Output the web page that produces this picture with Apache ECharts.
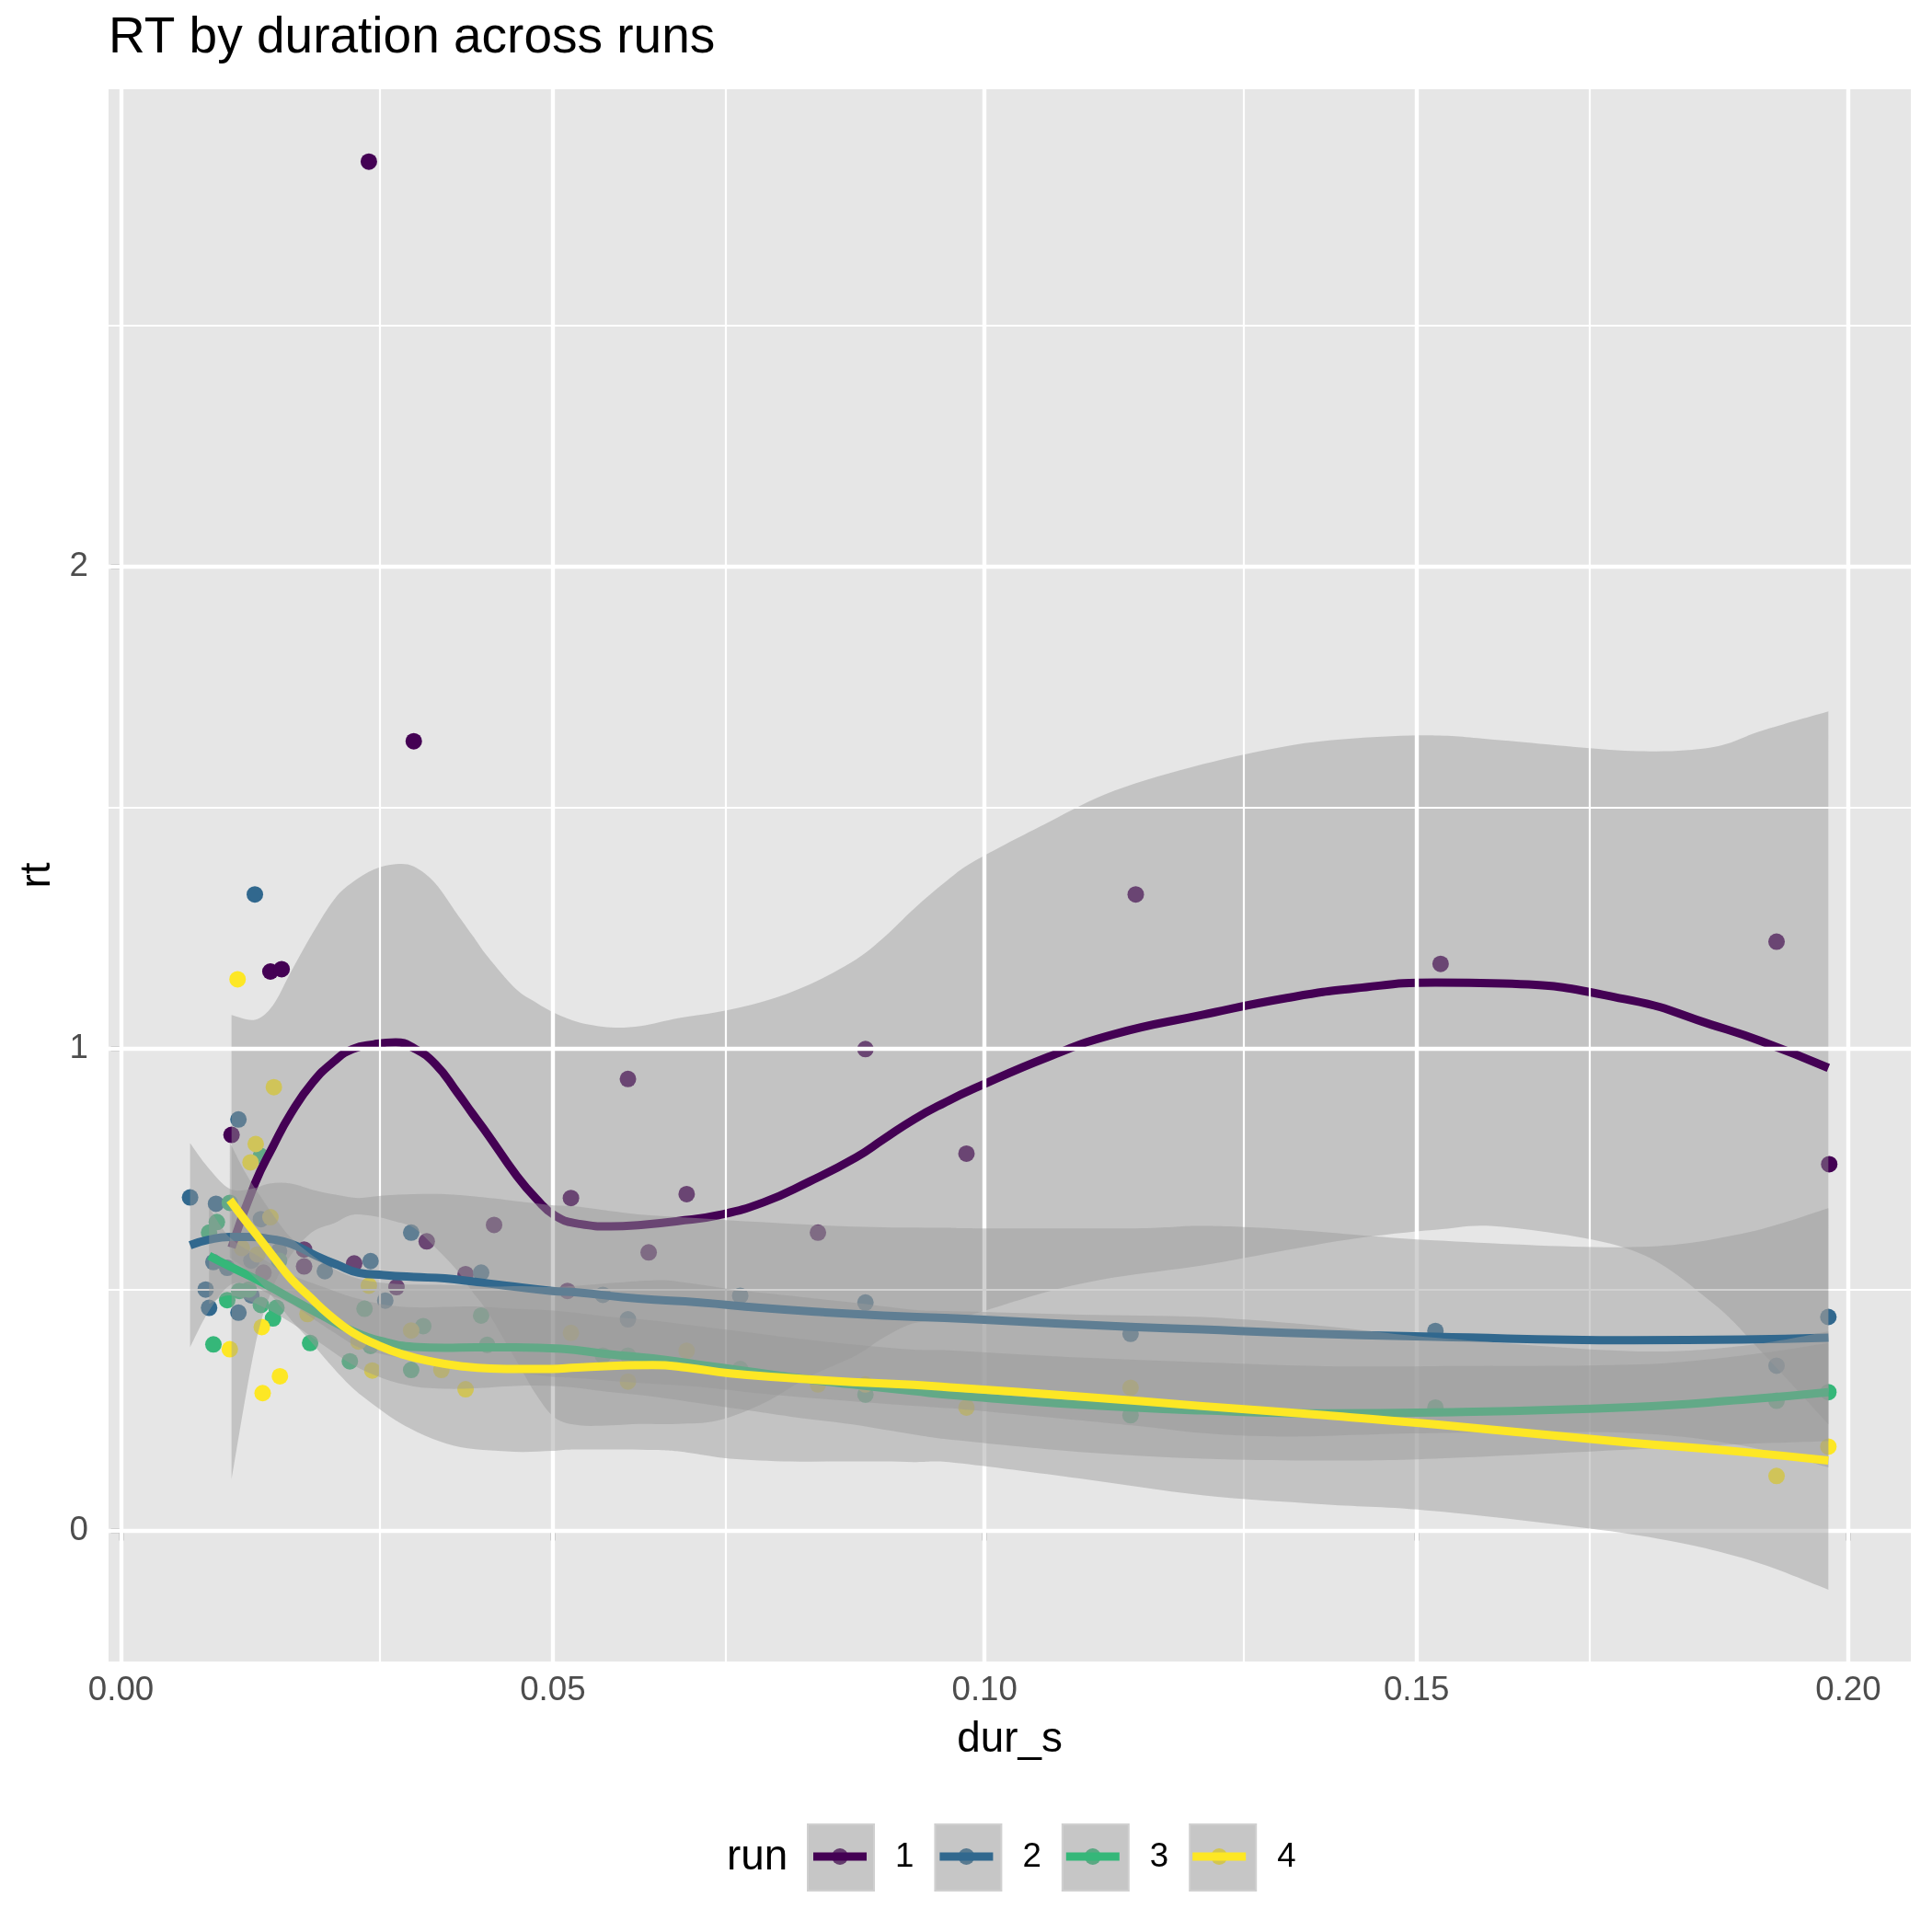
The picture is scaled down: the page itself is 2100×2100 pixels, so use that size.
<!DOCTYPE html>
<html>
<head>
<meta charset="utf-8">
<title>RT by duration across runs</title>
<script src="https://cdn.jsdelivr.net/npm/echarts@6.0.0/dist/echarts.min.js"></script>
<style>
  html, body { margin: 0; padding: 0; background: #ffffff; }
  #chart { width: 2100px; height: 2100px; }
</style>
</head>
<body>
<div id="chart"></div>
<script>
// runs and their viridis colours
const runNames = ['1', '2', '3', '4'];
const runColors = ['#440154', '#31688E', '#35B779', '#FDE725'];
// point colour as it shows through the grey key fill in the legend
const keyDotColors = ['#643C6E', '#587A90', '#5BA883', '#D2C552'];

// raw trials: dur_s / rt per run
const run1Dur = [0.0128, 0.0173, 0.0186, 0.0287, 0.0339, 0.0165, 0.0212, 0.0212, 0.0270, 0.0319, 0.0354, 0.0399, 0.0432, 0.0517, 0.0521, 0.0587, 0.0611, 0.0655, 0.0807, 0.0862, 0.0979, 0.1175, 0.1528, 0.1917, 0.1978];
const run1Rt  = [0.821, 1.160, 1.165, 2.841, 1.638, 0.535, 0.583, 0.548, 0.554, 0.505, 0.600, 0.532, 0.634, 0.497, 0.690, 0.937, 0.577, 0.698, 0.618, 0.999, 0.782, 1.320, 1.176, 1.222, 0.760];
const run2Dur = [0.0080, 0.0110, 0.0136, 0.0155, 0.0162, 0.0107, 0.0123, 0.0183, 0.0151, 0.0098, 0.0151, 0.0102, 0.0136, 0.0236, 0.0289, 0.0306, 0.0336, 0.0417, 0.0558, 0.0587, 0.0717, 0.0862, 0.1169, 0.1522, 0.1917, 0.1977];
const run2Rt  = [0.691, 0.678, 0.853, 1.320, 0.646, 0.557, 0.545, 0.580, 0.560, 0.500, 0.488, 0.462, 0.452, 0.538, 0.559, 0.477, 0.618, 0.535, 0.489, 0.438, 0.487, 0.473, 0.408, 0.414, 0.342, 0.443];
const run3Dur = [0.0162, 0.0126, 0.0111, 0.0102, 0.0183, 0.0137, 0.0148, 0.0123, 0.0162, 0.0180, 0.0176, 0.0107, 0.0219, 0.0282, 0.0289, 0.0265, 0.0350, 0.0336, 0.0417, 0.0424, 0.0558, 0.0587, 0.0717, 0.0862, 0.1169, 0.1522, 0.1917, 0.1977];
const run3Rt  = [0.777, 0.680, 0.640, 0.618, 0.560, 0.497, 0.500, 0.478, 0.468, 0.462, 0.440, 0.386, 0.389, 0.460, 0.383, 0.351, 0.424, 0.333, 0.446, 0.385, 0.363, 0.363, 0.335, 0.282, 0.239, 0.255, 0.269, 0.287];
const run4Dur = [0.0177, 0.0156, 0.0150, 0.0173, 0.0140, 0.0158, 0.0135, 0.0163, 0.0216, 0.0126, 0.0184, 0.0164, 0.0287, 0.0291, 0.0336, 0.0371, 0.0399, 0.0275, 0.0521, 0.0587, 0.0655, 0.0807, 0.0862, 0.0979, 0.1169, 0.1917, 0.1977];
const run4Rt  = [0.920, 0.802, 0.764, 0.650, 0.586, 0.573, 1.144, 0.422, 0.449, 0.376, 0.320, 0.285, 0.508, 0.332, 0.415, 0.333, 0.293, 0.392, 0.410, 0.309, 0.373, 0.303, 0.303, 0.255, 0.296, 0.113, 0.174];

// smoothed fit per run with the band edges
const fit1X  = [0.0128, 0.0155, 0.0176, 0.0197, 0.0222, 0.0247, 0.0268, 0.0293, 0.0318, 0.0339, 0.0364, 0.0389, 0.0407, 0.0425, 0.0457, 0.0481, 0.0503, 0.0531, 0.0567, 0.0602, 0.0645, 0.0691, 0.0744, 0.0797, 0.0851, 0.0883, 0.0918, 0.0954, 0.0989, 0.1074, 0.1150, 0.1252, 0.1350, 0.1429, 0.1522, 0.1600, 0.1749, 0.1841, 0.1900, 0.1977];
const fit1Y  = [0.587, 0.720, 0.797, 0.866, 0.930, 0.974, 0.999, 1.009, 1.013, 1.001, 0.968, 0.910, 0.865, 0.821, 0.739, 0.688, 0.653, 0.636, 0.631, 0.634, 0.642, 0.654, 0.681, 0.724, 0.774, 0.812, 0.853, 0.888, 0.918, 0.983, 1.030, 1.070, 1.105, 1.125, 1.137, 1.135, 1.100, 1.050, 1.015, 0.960];
const fit1Hi = [1.070, 1.060, 1.090, 1.160, 1.240, 1.310, 1.345, 1.372, 1.383, 1.378, 1.343, 1.280, 1.235, 1.190, 1.124, 1.095, 1.073, 1.054, 1.044, 1.047, 1.063, 1.076, 1.098, 1.133, 1.185, 1.230, 1.290, 1.345, 1.390, 1.470, 1.535, 1.590, 1.628, 1.644, 1.650, 1.640, 1.618, 1.625, 1.660, 1.700];
const fit1Lo = [0.104, 0.380, 0.504, 0.572, 0.620, 0.638, 0.655, 0.652, 0.641, 0.628, 0.587, 0.540, 0.495, 0.452, 0.354, 0.281, 0.233, 0.218, 0.218, 0.221, 0.221, 0.228, 0.264, 0.319, 0.363, 0.400, 0.430, 0.437, 0.450, 0.496, 0.525, 0.550, 0.582, 0.606, 0.624, 0.630, 0.582, 0.475, 0.370, 0.220];

const fit2X  = [0.0080, 0.0101, 0.0126, 0.0151, 0.0172, 0.0197, 0.0226, 0.0251, 0.0275, 0.0304, 0.0339, 0.0375, 0.0410, 0.0446, 0.0499, 0.0528, 0.0599, 0.0670, 0.0740, 0.0812, 0.0883, 0.0954, 0.0989, 0.1175, 0.1252, 0.1350, 0.1522, 0.1749, 0.1877, 0.1977];
const fit2Y  = [0.592, 0.603, 0.609, 0.609, 0.605, 0.595, 0.570, 0.551, 0.535, 0.530, 0.526, 0.523, 0.516, 0.508, 0.497, 0.494, 0.481, 0.473, 0.462, 0.453, 0.446, 0.441, 0.438, 0.422, 0.417, 0.410, 0.402, 0.395, 0.396, 0.400];
const fit2Hi = [0.804, 0.753, 0.709, 0.709, 0.720, 0.720, 0.705, 0.696, 0.690, 0.695, 0.698, 0.698, 0.693, 0.686, 0.675, 0.672, 0.656, 0.648, 0.640, 0.633, 0.629, 0.628, 0.627, 0.627, 0.632, 0.625, 0.602, 0.588, 0.616, 0.669];
const fit2Lo = [0.380, 0.453, 0.509, 0.509, 0.490, 0.470, 0.435, 0.406, 0.380, 0.365, 0.354, 0.348, 0.339, 0.330, 0.319, 0.316, 0.306, 0.298, 0.284, 0.273, 0.263, 0.254, 0.249, 0.217, 0.202, 0.195, 0.202, 0.202, 0.176, 0.131];

const fit3X  = [0.0102, 0.0126, 0.0162, 0.0197, 0.0233, 0.0268, 0.0304, 0.0339, 0.0375, 0.0410, 0.0457, 0.0510, 0.0563, 0.0616, 0.0670, 0.0723, 0.0776, 0.0847, 0.0918, 0.0968, 0.1110, 0.1252, 0.1394, 0.1522, 0.1749, 0.1877, 0.1977];
const fit3Y  = [0.570, 0.548, 0.516, 0.481, 0.446, 0.414, 0.392, 0.381, 0.379, 0.380, 0.380, 0.377, 0.366, 0.357, 0.344, 0.331, 0.318, 0.303, 0.289, 0.280, 0.261, 0.249, 0.243, 0.245, 0.256, 0.271, 0.287];
const fit3Hi = [0.670, 0.608, 0.566, 0.531, 0.506, 0.484, 0.469, 0.463, 0.464, 0.465, 0.460, 0.455, 0.444, 0.436, 0.424, 0.412, 0.400, 0.386, 0.375, 0.373, 0.359, 0.349, 0.341, 0.341, 0.344, 0.363, 0.389];
const fit3Lo = [0.470, 0.488, 0.466, 0.431, 0.386, 0.344, 0.315, 0.299, 0.294, 0.295, 0.300, 0.299, 0.288, 0.278, 0.264, 0.250, 0.236, 0.220, 0.199, 0.187, 0.163, 0.149, 0.145, 0.149, 0.168, 0.179, 0.185];

const fit4X  = [0.0126, 0.0144, 0.0162, 0.0180, 0.0197, 0.0219, 0.0240, 0.0268, 0.0297, 0.0325, 0.0361, 0.0393, 0.0428, 0.0464, 0.0499, 0.0528, 0.0616, 0.0655, 0.0705, 0.0776, 0.0847, 0.0918, 0.0968, 0.1110, 0.1252, 0.1394, 0.1522, 0.1749, 0.1877, 0.1977];
const fit4Y  = [0.686, 0.643, 0.602, 0.560, 0.522, 0.484, 0.449, 0.411, 0.385, 0.366, 0.350, 0.341, 0.336, 0.335, 0.335, 0.338, 0.343, 0.338, 0.326, 0.316, 0.308, 0.302, 0.296, 0.278, 0.258, 0.239, 0.220, 0.182, 0.163, 0.145];
const fit4Hi = [0.806, 0.743, 0.692, 0.645, 0.607, 0.574, 0.549, 0.526, 0.515, 0.511, 0.510, 0.509, 0.506, 0.507, 0.505, 0.508, 0.519, 0.514, 0.501, 0.487, 0.473, 0.458, 0.455, 0.448, 0.443, 0.424, 0.400, 0.372, 0.383, 0.413];
const fit4Lo = [0.566, 0.543, 0.512, 0.475, 0.437, 0.394, 0.349, 0.296, 0.255, 0.221, 0.190, 0.173, 0.166, 0.163, 0.165, 0.168, 0.167, 0.162, 0.149, 0.143, 0.143, 0.142, 0.140, 0.108, 0.073, 0.054, 0.040, -0.008, -0.057, -0.123];

// axis breaks
const xTicks = [0, 0.05, 0.10, 0.15, 0.20];
const xMinor = [0.025, 0.075, 0.125, 0.175];
const yTicks = [0, 1, 2];
const yMinor = [0.5, 1.5, 2.5];

const FONT = 'Liberation Sans, Arial, Helvetica, sans-serif';
const BAND = 'rgba(153,153,153,0.45)';
const chart = echarts.init(document.getElementById('chart'), null, {
  width: 2100, height: 2100, renderer: 'canvas', devicePixelRatio: 1
});

const points = [[run1Dur, run1Rt], [run2Dur, run2Rt], [run3Dur, run3Rt], [run4Dur, run4Rt]];
const fits = [
  [fit1X, fit1Y, fit1Lo, fit1Hi],
  [fit2X, fit2Y, fit2Lo, fit2Hi],
  [fit3X, fit3Y, fit3Lo, fit3Hi],
  [fit4X, fit4Y, fit4Lo, fit4Hi]
];

function pairs(xs, ys) {
  return xs.map((x, i) => [x, ys[i]]);
}

// curve through the pixel points (catmull-rom as bezier pieces)
function curveThrough(pts) {
  let d = '';
  for (let i = 0; i < pts.length - 1; i++) {
    const p0 = pts[Math.max(i - 1, 0)];
    const p1 = pts[i];
    const p2 = pts[i + 1];
    const p3 = pts[Math.min(i + 2, pts.length - 1)];
    const c1x = p1[0] + (p2[0] - p0[0]) / 6;
    const c1y = p1[1] + (p2[1] - p0[1]) / 6;
    const c2x = p2[0] - (p3[0] - p1[0]) / 6;
    const c2y = p2[1] - (p3[1] - p1[1]) / 6;
    d += ' C' + c1x + ',' + c1y + ' ' + c2x + ',' + c2y + ' ' + p2[0] + ',' + p2[1];
  }
  return d;
}

// grey confidence band, edges placed through the axes
function bandSeries(name, xs, lo, hi, z) {
  return {
    type: 'custom',
    name: name,
    z: z,
    silent: true,
    data: [[xs[0], lo[0]]],
    renderItem: function (params, api) {
      const top = xs.map((x, i) => api.coord([x, hi[i]]));
      const bot = xs.map((x, i) => api.coord([x, lo[i]])).reverse();
      const d = 'M' + top[0][0] + ',' + top[0][1] + curveThrough(top) +
        ' L' + bot[0][0] + ',' + bot[0][1] + curveThrough(bot) + ' Z';
      return {
        type: 'path',
        shape: { pathData: d },
        style: { fill: BAND, stroke: null }
      };
    }
  };
}

// panel grid lines, drawn on a series of their own under everything
const gridLines = []
  .concat(xTicks.map(v => ({ xAxis: v, lineStyle: { width: 4.4 } })))
  .concat(xMinor.map(v => ({ xAxis: v, lineStyle: { width: 2.2 } })))
  .concat(yTicks.map(v => ({ yAxis: v, lineStyle: { width: 4.4 } })))
  .concat(yMinor.map(v => ({ yAxis: v, lineStyle: { width: 2.2 } })));

const series = [{
  type: 'line',
  name: 'grid',
  data: [],
  z: 1,
  silent: true,
  markLine: {
    silent: true,
    symbol: ['none', 'none'],
    label: { show: false },
    lineStyle: { color: '#ffffff', type: 'solid', opacity: 1 },
    emphasis: { disabled: true },
    animation: false,
    data: gridLines
  }
}];

// points first, all under the smooth layers
points.forEach((p, k) => {
  series.push({
    type: 'scatter',
    name: runNames[k],
    z: 2,
    symbol: 'circle',
    symbolSize: 18,
    itemStyle: { color: runColors[k], opacity: 1 },
    data: pairs(p[0], p[1])
  });
});

// band then line for each run, so later bands dim earlier lines
fits.forEach((f, k) => {
  series.push(bandSeries(runNames[k], f[0], f[2], f[3], 3 + k * 2));
  series.push({
    type: 'line',
    name: runNames[k],
    z: 4 + k * 2,
    symbol: 'none',
    smooth: 0.5,
    lineStyle: { color: runColors[k], width: 9, cap: 'butt', join: 'round' },
    itemStyle: { color: runColors[k] },
    data: pairs(f[0], f[1])
  });
});

const legendBase = {
  orient: 'horizontal',
  left: 877,
  top: 1982,
  itemWidth: 72,
  itemHeight: 72,
  itemGap: 22,
  padding: 0,
  selectedMode: false,
  textStyle: { fontSize: 36.7, fontFamily: FONT, color: '#000000', padding: [0, 0, 0, 18] }
};

const option = {
  backgroundColor: '#ffffff',
  animation: false,
  title: [{
    text: 'RT by duration across runs',
    left: 118,
    top: 14,
    padding: 0,
    textStyle: { fontSize: 55, fontWeight: 'normal', color: '#000000', fontFamily: FONT }
  }, {
    text: 'run',
    left: 790,
    top: 1996,
    padding: 0,
    textStyle: { fontSize: 45.8, fontWeight: 'normal', color: '#000000', fontFamily: FONT }
  }],
  grid: {
    left: 118,
    right: 23,
    top: 97,
    bottom: 294,
    containLabel: false,
    outerBoundsMode: 'none',
    show: true,
    backgroundColor: '#E6E6E6',
    borderWidth: 0
  },
  xAxis: {
    type: 'value',
    min: -0.00144,
    max: 0.20725,
    name: 'dur_s',
    nameLocation: 'middle',
    nameGap: 62,
    nameTextStyle: { fontSize: 45.8, color: '#000000', fontFamily: FONT },
    axisLine: { show: false },
    axisTick: {
      show: true,
      customValues: xTicks,
      length: 11,
      lineStyle: { color: '#333333', width: 4.4 }
    },
    axisLabel: {
      customValues: xTicks,
      margin: 13,
      fontSize: 36.7,
      color: '#4D4D4D',
      fontFamily: FONT,
      formatter: v => v.toFixed(2)
    },
    splitLine: { show: false },
    minorSplitLine: { show: false }
  },
  yAxis: {
    type: 'value',
    min: -0.2721,
    max: 2.9912,
    name: 'rt',
    nameLocation: 'middle',
    nameRotate: 90,
    nameGap: 54,
    nameTextStyle: { fontSize: 45.8, color: '#000000', fontFamily: FONT },
    axisLine: { show: false },
    axisTick: {
      show: true,
      customValues: yTicks,
      length: 11,
      lineStyle: { color: '#333333', width: 4.4 }
    },
    axisLabel: {
      customValues: yTicks,
      margin: 22,
      fontSize: 36.7,
      color: '#4D4D4D',
      fontFamily: FONT,
      formatter: v => String(v)
    },
    splitLine: { show: false },
    minorSplitLine: { show: false }
  },
  legend: [
    Object.assign({}, legendBase, {
      z: 4,
      data: runNames.map(n => ({
        name: n,
        icon: 'rect',
        itemStyle: { color: '#C6C6C6', borderColor: '#D0D0D0', borderWidth: 2 }
      }))
    }),
    Object.assign({}, legendBase, {
      z: 5,
      textStyle: Object.assign({}, legendBase.textStyle, { color: 'rgba(0,0,0,0)' }),
      data: runNames.map((n, k) => ({
        name: n,
        icon: 'path://M0,0M72,72M45,36A9,9 0 1,1 27,36A9,9 0 1,1 45,36Z',
        itemStyle: { color: keyDotColors[k], borderWidth: 0 }
      }))
    }),
    Object.assign({}, legendBase, {
      z: 6,
      textStyle: Object.assign({}, legendBase.textStyle, { color: 'rgba(0,0,0,0)' }),
      data: runNames.map((n, k) => ({
        name: n,
        icon: 'path://M0,0M72,72M7,31.5L65,31.5L65,40.5L7,40.5Z',
        itemStyle: { color: runColors[k], borderWidth: 0 }
      }))
    })
  ],
  series: series
};

chart.setOption(option);
</script>
</body>
</html>
